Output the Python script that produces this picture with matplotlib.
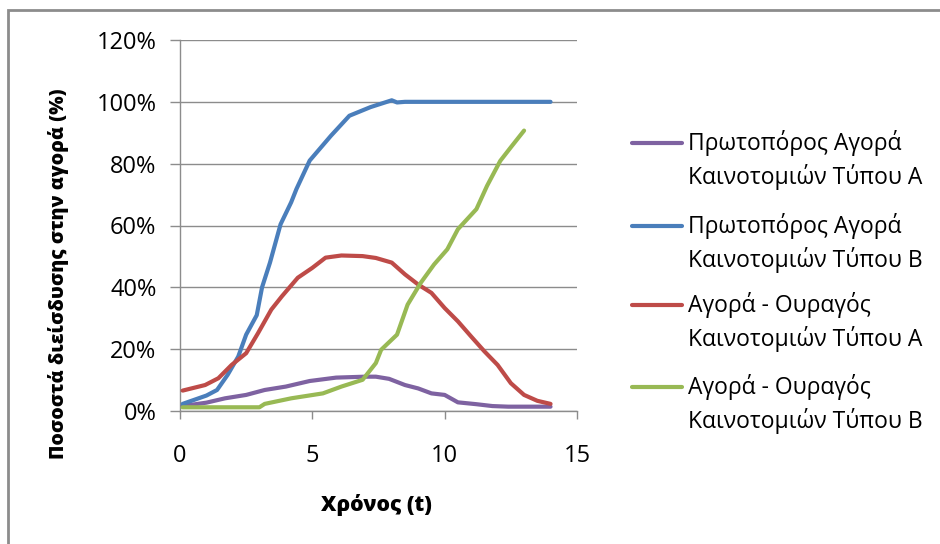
import matplotlib
matplotlib.use("Agg")
import matplotlib.pyplot as plt
from matplotlib.lines import Line2D
from matplotlib.patches import Rectangle
from matplotlib.ticker import FuncFormatter

plt.rcParams['font.family'] = ['Open Sans', 'DejaVu Sans']

# Market penetration (%) over time t for four market types
series_names = [
    ("Πρωτοπόρος Αγορά", "Καινοτομιών Τύπου Α"),
    ("Πρωτοπόρος Αγορά", "Καινοτομιών Τύπου Β"),
    ("Αγορά - Ουραγός", "Καινοτομιών Τύπου Α"),
    ("Αγορά - Ουραγός", "Καινοτομιών Τύπου Β"),
]
series_colors = ["#7E62A1", "#4A7EBB", "#BE4B48", "#98B954"]

t_pioneer_a = [0.1, 1.0, 1.7, 2.5, 3.2, 4.0, 4.9, 5.9, 7.0, 7.4, 7.9, 8.5,
               9.0, 9.5, 10.0, 10.5, 11.2, 11.8, 12.4, 14.0]
p_pioneer_a = [1.6, 2.7, 4.1, 5.2, 6.8, 7.9, 9.7, 10.8, 11.1, 11.1, 10.4, 8.4,
               7.3, 5.7, 5.2, 2.8, 2.2, 1.6, 1.4, 1.4]

t_pioneer_b = [0.1, 1.0, 1.4, 1.8, 2.2, 2.5, 2.9, 3.1, 3.4, 3.8, 4.2, 4.4,
               4.9, 5.7, 6.4, 7.2, 8.0, 8.2, 8.5, 14.0]
p_pioneer_b = [2.3, 5.0, 6.8, 11.7, 17.6, 24.7, 31.0, 40.0, 48.0, 60.4, 67.5, 71.8,
               81.0, 89.0, 95.5, 98.3, 100.5, 99.8, 100.0, 100.0]

t_laggard_a = [0.1, 0.95, 1.45, 1.95, 2.5, 2.95, 3.45, 3.85, 4.45, 5.0, 5.5, 6.1,
               6.9, 7.4, 8.0, 8.5, 9.0, 9.5, 10.0, 10.5, 11.0, 11.5, 12.0, 12.5,
               13.0, 13.5, 14.0]
p_laggard_a = [6.6, 8.4, 10.6, 14.9, 18.7, 25.2, 32.8, 37.1, 43.1, 46.3, 49.6, 50.3,
               50.1, 49.5, 48.0, 44.2, 40.9, 38.2, 33.3, 29.0, 24.1, 19.3, 14.9, 9.0,
               5.2, 3.3, 2.3]

t_laggard_b = [0.1, 3.0, 3.2, 4.2, 5.4, 6.1, 6.9, 7.4, 7.6, 8.2, 8.6, 9.1,
               9.6, 10.1, 10.5, 11.2, 11.6, 12.1, 12.5, 13.0]
p_laggard_b = [1.2, 1.2, 2.3, 4.1, 5.7, 7.9, 10.1, 15.5, 19.8, 24.7, 34.4, 41.5,
               47.4, 52.3, 58.8, 65.3, 72.8, 80.9, 85.3, 90.7]

x_ticks = [0, 5, 10, 15]
y_ticks = [0, 20, 40, 60, 80, 100, 120]

W, H = 940, 544
fig = plt.figure(figsize=(W / 100, H / 100), dpi=100)
fig.patch.set_facecolor("white")

# chart frame
fig.add_artist(Rectangle((8 / W, -0.05), 1.1, 1 - 10 / H + 0.05,
                         transform=fig.transFigure, fill=False,
                         edgecolor="#8C8C8C", linewidth=2))

ax = fig.add_axes([180 / W, 1 - 411 / H, (577 - 180) / W, (411 - 40) / H])

all_t = [t_pioneer_a, t_pioneer_b, t_laggard_a, t_laggard_b]
all_p = [p_pioneer_a, p_pioneer_b, p_laggard_a, p_laggard_b]
for t, p, c in zip(all_t, all_p, series_colors):
    ax.plot(t, p, color=c, linewidth=3.0, solid_capstyle="round",
            solid_joinstyle="round", zorder=3)

ax.set_xlim(0, 15)
ax.set_ylim(0, 120)
ax.set_xticks(x_ticks)
ax.set_yticks(y_ticks)
ax.yaxis.set_major_formatter(FuncFormatter(lambda v, _: f"{v:.0f}%"))
ax.grid(axis="y", color="#8C8C8C", linewidth=1.0, zorder=1)
ax.set_axisbelow(True)
for side in ("top", "right"):
    ax.spines[side].set_visible(False)
for side in ("left", "bottom"):
    ax.spines[side].set_color("#8C8C8C")
    ax.spines[side].set_linewidth(1.0)
ax.tick_params(axis="y", direction="out", length=7, width=1, color="#8C8C8C",
               labelsize=17, pad=10, labelcolor="black")
ax.tick_params(axis="x", direction="out", length=6, width=1, color="#8C8C8C",
               labelsize=17, pad=18, labelcolor="black")

ax.set_ylabel("Ποσοστά διείσδυσης στην αγορά (%)", fontsize=14.0,
              fontweight=800, va="center", ha="center")
ax.yaxis.set_label_coords(-0.305, 0.37)
ax.set_xlabel("Χρόνος (t)", fontsize=15.3, fontweight=800,
              va="center", ha="center")
ax.xaxis.set_label_coords((376 - 180) / 397, (411 - 505) / 371)

# legend: handle beside the first line of each two-line label
legend_y = [143, 226, 305, 387]
line_gap = 34
for (first, second), c, yp in zip(series_names, series_colors, legend_y):
    fy = 1 - yp / H
    fig.add_artist(Line2D([632 / W, 682 / W], [fy, fy], transform=fig.transFigure,
                          color=c, linewidth=3.0, solid_capstyle="round"))
    fig.text(688 / W, fy, first, fontsize=16.5, va="center", ha="left")
    fig.text(688 / W, 1 - (yp + line_gap) / H, second, fontsize=16.5,
             va="center", ha="left")

fig.savefig("out.png", dpi=100)
